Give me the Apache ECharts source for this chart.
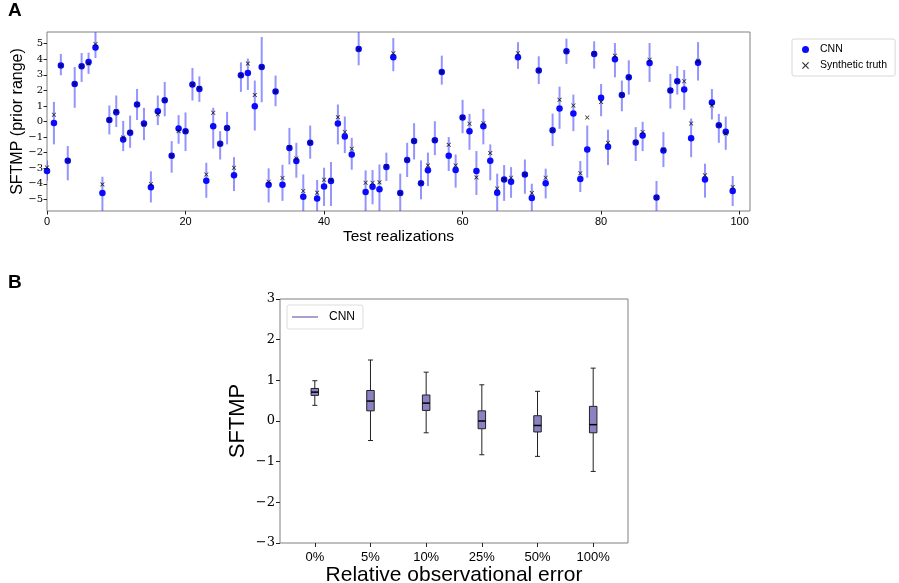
<!DOCTYPE html>
<html>
<head>
<meta charset="utf-8">
<script src="https://cdn.jsdelivr.net/npm/echarts@6/dist/echarts.min.js"></script>
<style>
  html, body { margin: 0; padding: 0; background: #fff; }
  #chart { width: 899px; height: 583px; }
</style>
</head>
<body>
<div id="chart"></div>
<script>
// panel A: 100 test realizations
const truth = [
  -2.95, 0.43, 3.6, -2.52, 2.41, 3.55, 3.72, 4.98, -4.04, 0.09,
  0.66, -1.03, -0.68, 1.09, -0.21, -4.02, 0.47, 1.37, -2.2, -0.62,
  -0.62, 2.37, 2.16, -3.4, 0.56, -1.43, -0.41, -2.97, 2.97, 3.72,
  1.71, 3.5, -3.87, 1.92, -3.63, -1.65, -2.37, -4.47, -1.37, -4.57,
  -3.74, -3.74, 0.28, -0.68, -1.75, 4.66, -3.93, -3.93, -3.91, -2.88,
  4.38, -4.6, -2.48, -1.26, -3.97, -2.82, -1.2, 3.18, -1.5, -2.82,
  0.26, -0.15, -3.59, -0.11, -2.03, -4.3, -3.72, -3.61, 4.38, -3.4,
  -4.6, 3.27, -3.61, -0.56, 1.39, 4.51, 1.03, -3.33, 0.26, 4.38,
  1.26, -1.37, 4.23, 1.71, 2.84, -1.35, -0.68, 3.97, -4.89, -1.8,
  1.99, 2.59, 2.59, -0.13, 3.91, -3.46, 1.03, -0.24, -0.77, -4.21
];
const cnn = [
  -3.18, -0.1, 3.6, -2.52, 2.41, 3.55, 3.82, 4.76, -4.6, 0.09,
  0.6, -1.15, -0.72, 1.09, -0.13, -4.23, 0.66, 1.37, -2.2, -0.45,
  -0.62, 2.37, 2.09, -3.8, -0.3, -1.43, -0.41, -3.46, 2.97, 3.12,
  0.98, 3.5, -4.06, 1.92, -4.06, -1.71, -2.54, -4.83, -1.37, -4.94,
  -4.17, -3.82, -0.13, -0.96, -2.12, 4.66, -4.53, -4.19, -4.36, -2.93,
  4.12, -4.6, -2.48, -1.26, -3.97, -3.14, -1.2, 3.18, -2.2, -3.12,
  0.26, -0.62, -3.18, -0.3, -2.52, -4.57, -3.72, -3.87, 4.12, -3.4,
  -4.92, 3.27, -3.97, -0.56, 0.83, 4.51, 0.51, -3.7, -1.8, 4.34,
  1.52, -1.62, 4.0, 1.71, 2.84, -1.35, -0.9, 3.76, -4.89, -1.86,
  1.99, 2.59, 2.05, -1.07, 3.78, -3.72, 1.22, -0.24, -0.66, -4.47
];
const errLow = [
  -3.8, -1.47, 2.97, -3.78, 0.88, 2.54, 3.06, 4.08, -5.75, -0.83,
  -0.36, -1.9, -1.69, 0.1, -1.2, -5.2, -0.23, 0.34, -3.29, -1.43,
  -1.9, 1.35, 1.26, -4.9, -1.73, -2.44, -1.47, -4.47, 1.9, 2.03,
  -0.58, 1.24, -5.2, 0.98, -5.1, -2.76, -3.61, -5.75, -2.39, -5.75,
  -5.43, -5.43, -1.47, -2.03, -3.1, 3.61, -5.75, -5.32, -5.75, -3.82,
  3.23, -5.75, -3.57, -2.44, -5.0, -4.15, -2.16, 2.37, -3.18, -4.25,
  -0.75, -1.82, -4.72, -1.47, -3.78, -5.75, -5.1, -4.9, 3.38, -4.64,
  -5.75, 2.41, -4.94, -1.58, -0.47, 3.7, -0.62, -4.53, -3.61, 3.4,
  0.34, -2.8, 2.84, 0.66, 1.73, -2.54, -1.9, 2.54, -5.75, -2.93,
  0.83, 1.73, 0.75, -2.29, 2.63, -4.89, 0.13, -1.37, -1.82, -5.43
];
const errHigh = [
  -2.5, 1.26, 4.34, -1.58, 3.5, 4.4, 4.42, 5.75, -3.55, 1.03,
  1.67, 0.04, 0.38, 2.09, 0.88, -3.2, 1.67, 2.54, -1.26, 0.41,
  0.58, 3.44, 2.9, -2.65, 0.88, -0.62, 0.62, -2.29, 3.8, 4.04,
  2.63, 5.43, -3.01, 2.95, -2.78, -0.41, -1.37, -3.4, -0.26, -3.76,
  -2.97, -2.6, 1.09, 0.32, -1.05, 5.75, -3.14, -3.12, -2.76, -2.0,
  5.36, -3.35, -1.37, -0.11, -2.5, -2.0, 0.02, 4.23, -1.0, -2.12,
  1.39, 0.49, -1.9, 0.81, -1.47, -3.35, -2.8, -2.93, 5.1, -2.44,
  -4.0, 4.19, -3.03, 0.51, 2.24, 5.32, 1.73, -2.54, -0.26, 5.15,
  2.41, -0.53, 5.04, 2.63, 3.93, -0.36, -0.02, 5.04, -3.82, -0.68,
  3.06, 3.57, 3.31, 0.19, 5.1, -2.71, 2.09, 0.49, 0.32, -3.5
];
const yTicksA = [-5, -4, -3, -2, -1, 0, 1, 2, 3, 4, 5];
const xTicksA = [0, 20, 40, 60, 80, 100];

// panel B: box statistics per observational error level
const errorLevels = ['0%', '5%', '10%', '25%', '50%', '100%'];
const boxMin = [0.385, -0.48, -0.29, -0.83, -0.87, -1.24];
const boxQ1 = [0.63, 0.25, 0.26, -0.19, -0.27, -0.29];
const boxMedian = [0.71, 0.49, 0.44, 0.0, -0.11, -0.09];
const boxQ3 = [0.8, 0.75, 0.64, 0.25, 0.13, 0.36];
const boxMax = [0.99, 1.5, 1.2, 0.89, 0.73, 1.3];
const yTicksB = [-3, -2, -1, 0, 1, 2, 3];

const SANS = 'Liberation Sans';
const SERIF = 'DejaVu Serif';
const minus = v => String(v).replace('-', '\u2212');
const xShape = 'path://M0,1.2L1.2,0L5,3.8L8.8,0L10,1.2L6.2,5L10,8.8L8.8,10L5,6.2L1.2,10L0,8.8L3.8,5Z';

const idx = truth.map((_, i) => i);
const errData = idx.map(i => [i, errLow[i], errHigh[i]]);
const cnnData = idx.map(i => [i, cnn[i]]);
const truthData = idx.map(i => [i, truth[i]]);
const boxData = errorLevels.map((_, i) => [i + 1, boxMin[i], boxQ1[i], boxMedian[i], boxQ3[i], boxMax[i]]);

const chart = echarts.init(document.getElementById('chart'));

chart.setOption({
  animation: false,
  backgroundColor: '#fff',
  textStyle: { fontFamily: SANS },
  graphic: [
    { type: 'text', left: 8, top: 1, style: { text: 'A', font: 'bold 19px "Liberation Sans"', fill: '#000' } },
    { type: 'text', left: 8, top: 273, style: { text: 'B', font: 'bold 19px "Liberation Sans"', fill: '#000' } }
  ],
  legend: [
    {
      orient: 'vertical', left: 792, top: 39,
      itemWidth: 7, itemHeight: 7, itemGap: 5,
      padding: [5, 8, 5, 10],
      borderColor: '#d8d8d8', borderWidth: 1, borderRadius: 2,
      textStyle: { fontSize: 10.5, fontFamily: SANS, color: '#000', padding: [0, 0, 0, 6] },
      data: [
        { name: 'CNN', icon: 'circle' },
        { name: 'Synthetic truth', icon: xShape }
      ]
    },
    {
      left: 287, top: 305,
      itemWidth: 26, itemHeight: 1.5,
      padding: [6, 8, 6, 5],
      borderColor: '#dddddd', borderWidth: 1, borderRadius: 2,
      textStyle: { fontSize: 12, fontFamily: SANS, color: '#000', padding: [0, 0, 0, 6] },
      formatter: () => 'CNN',
      data: [{ name: 'CNN box', icon: 'rect', itemStyle: { color: '#8a82c2' } }]
    }
  ],
  grid: [
    { left: 47, top: 32, right: 149, bottom: 372, outerBoundsMode: 'none', show: true, borderColor: '#808080', borderWidth: 1 },
    { left: 280, top: 299, width: 348, bottom: 40, outerBoundsMode: 'none', show: true, borderColor: '#808080', borderWidth: 1 }
  ],
  xAxis: [
    {
      gridIndex: 0, type: 'value', min: 0, max: 101.5,
      name: 'Test realizations', nameLocation: 'middle', nameGap: 18,
      nameTextStyle: { fontSize: 15.5, fontFamily: SANS, color: '#000' },
      axisLine: { show: false, onZero: false }, splitLine: { show: false },
      axisTick: { show: true, length: 3.5, customValues: xTicksA, lineStyle: { color: '#222' } },
      axisLabel: { customValues: xTicksA, fontSize: 11, fontFamily: SANS, color: '#000', margin: 5 }
    },
    {
      gridIndex: 1, type: 'value', min: 0.375, max: 6.625,
      name: 'Relative observational error', nameLocation: 'middle', nameGap: 21,
      nameTextStyle: { fontSize: 21, fontFamily: SANS, color: '#000' },
      axisLine: { show: false, onZero: false }, splitLine: { show: false },
      axisTick: { show: true, length: 4, customValues: [1, 2, 3, 4, 5, 6], lineStyle: { color: '#222' } },
      axisLabel: {
        customValues: [1, 2, 3, 4, 5, 6], fontSize: 13, fontFamily: SANS, color: '#000', margin: 8,
        formatter: v => errorLevels[Math.round(v) - 1]
      }
    }
  ],
  yAxis: [
    {
      gridIndex: 0, type: 'value', min: -5.75, max: 5.75,
      name: 'SFTMP (prior range)', nameLocation: 'middle', nameGap: 21, nameMoveOverlap: false,
      nameTextStyle: { fontSize: 16, fontFamily: SANS, color: '#000' },
      axisLine: { show: false, onZero: false }, splitLine: { show: false },
      axisTick: { show: true, length: 3.5, customValues: yTicksA, lineStyle: { color: '#222' } },
      axisLabel: { customValues: yTicksA, fontSize: 10, fontFamily: SERIF, color: '#000', margin: 4, formatter: minus }
    },
    {
      gridIndex: 1, type: 'value', min: -3, max: 3,
      name: 'SFTMP', nameLocation: 'middle', nameGap: 31,
      nameTextStyle: { fontSize: 22, fontFamily: SANS, color: '#000' },
      axisLine: { show: false, onZero: false }, splitLine: { show: false },
      axisTick: { show: true, length: 4, customValues: yTicksB, lineStyle: { color: '#222' } },
      axisLabel: { customValues: yTicksB, fontSize: 13, fontFamily: SERIF, color: '#000', margin: 5, formatter: minus }
    }
  ],
  series: [
    {
      name: 'CNN err', type: 'custom', xAxisIndex: 0, yAxisIndex: 0, clip: true,
      data: errData,
      renderItem: (params, api) => {
        const lo = api.coord([api.value(0), api.value(1)]);
        const hi = api.coord([api.value(0), api.value(2)]);
        return {
          type: 'line',
          shape: { x1: lo[0], y1: lo[1], x2: hi[0], y2: hi[1] },
          style: { stroke: 'rgba(60,60,255,0.55)', lineWidth: 2 }
        };
      }
    },
    {
      name: 'CNN', type: 'scatter', xAxisIndex: 0, yAxisIndex: 0,
      symbol: 'circle', symbolSize: 6.5,
      itemStyle: { color: '#0a0aff', opacity: 1 },
      emphasis: { disabled: true },
      data: cnnData
    },
    {
      name: 'Synthetic truth', type: 'scatter', xAxisIndex: 0, yAxisIndex: 0,
      symbol: xShape, symbolSize: 4.5,
      itemStyle: { color: '#000' },
      emphasis: { disabled: true },
      data: truthData
    },
    {
      name: 'CNN box', type: 'custom', xAxisIndex: 1, yAxisIndex: 1,
      data: boxData,
      itemStyle: { color: '#8a82c2' },
      renderItem: (params, api) => {
        const x = api.value(0);
        const pMin = api.coord([x, api.value(1)]);
        const pQ1 = api.coord([x, api.value(2)]);
        const pMed = api.coord([x, api.value(3)]);
        const pQ3 = api.coord([x, api.value(4)]);
        const pMax = api.coord([x, api.value(5)]);
        const bw = 7.5, cw = 2.5, cx = pMin[0];
        const edge = { stroke: '#222', lineWidth: 1 };
        return {
          type: 'group',
          children: [
            { type: 'line', shape: { x1: cx, y1: pMin[1], x2: cx, y2: pQ1[1] }, style: edge },
            { type: 'line', shape: { x1: cx, y1: pQ3[1], x2: cx, y2: pMax[1] }, style: edge },
            { type: 'line', shape: { x1: cx - cw, y1: pMin[1], x2: cx + cw, y2: pMin[1] }, style: edge },
            { type: 'line', shape: { x1: cx - cw, y1: pMax[1], x2: cx + cw, y2: pMax[1] }, style: edge },
            {
              type: 'rect',
              shape: { x: cx - bw / 2, y: pQ3[1], width: bw, height: pQ1[1] - pQ3[1] },
              style: { fill: '#8a82c2', stroke: '#222', lineWidth: 1 }
            },
            { type: 'line', shape: { x1: cx - bw / 2, y1: pMed[1], x2: cx + bw / 2, y2: pMed[1] }, style: { stroke: '#000', lineWidth: 1.5 } }
          ]
        };
      }
    }
  ]
});
</script>
</body>
</html>
